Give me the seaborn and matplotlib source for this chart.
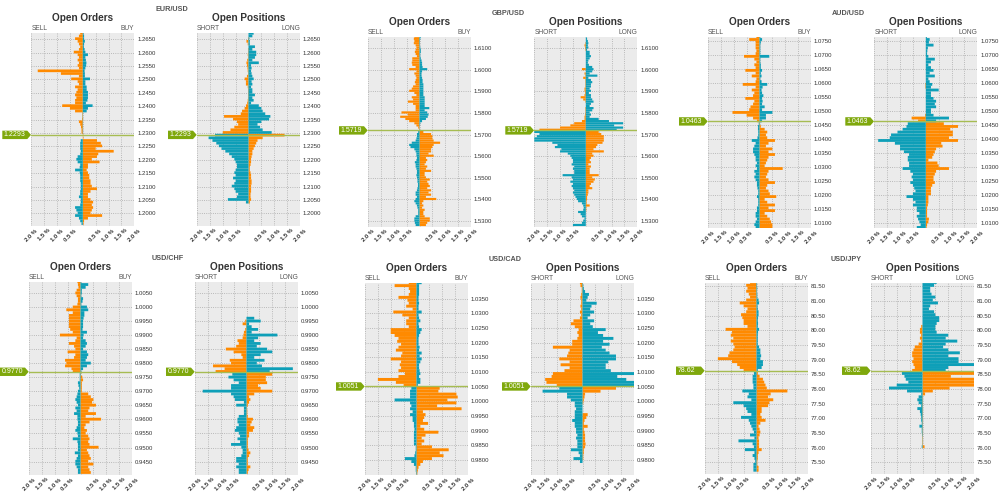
import numpy as np
import pandas as pd
import matplotlib
matplotlib.use('Agg')
import matplotlib.pyplot as plt
from matplotlib.patches import Polygon
from matplotlib.transforms import blended_transform_factory
import seaborn as sns

# percent of traders per price level, top row first
EUR_ORD_L = [.1,.15,.3,.2,.15,.1,.15,.35,.2,.15,
             .2,.15,.2,.15,1.75,.85,.15,.45,.2,.15,
             .3,.2,.25,.3,.25,.3,.3,.8,.5,.3,
             .02,.02,.03,.15,.1,.07,.05,.05,
             0,0,.08,.1,.1,.1,.08,.1,.2,.25,
             .2,.1,.12,.3,.12,.1,.1,.1,.08,.08,
             .08,.1,.1,.15,.08,.08,.1,.3,.25,.2,
             .3,.15,.1,.05]
EUR_ORD_R = [.03,.05,.05,.08,.05,.04,.07,.1,.2,.1,
             .12,.14,.13,.1,.07,.08,.08,.28,.1,.1,
             .15,.15,.2,.2,.2,.18,.12,.38,.2,.15,
             .01,.01,.01,.01,.01,.01,.01,.01,
             .02,.02,.55,.7,.75,.5,1.2,.6,.55,.35,
             .65,.2,.2,.15,.2,.25,.25,.3,.3,.35,
             .55,.3,.2,.2,.3,.4,.35,.4,.35,.3,
             .75,.2,.05,.03]
EUR_POS_L = [0,0,.02,.08,.03,0,.02,.02,.03,.02,
             .05,.08,.06,.04,.03,.02,.06,.15,.1,.1,
             .03,.02,.02,.02,.02,.03,.05,.1,.15,.25,
             .3,.95,.6,.45,.4,.55,.7,1.0,
             1.3,1.55,1.4,1.25,1.15,1.05,.9,.75,.65,.55,
             .5,.45,.45,.5,.55,.5,.6,.5,.55,.65,
             .55,.5,.4,.45,.8,.1,0,0,0,0,
             0,0,0,0]
EUR_POS_R = [.2,.15,.03,.05,.05,.25,.15,.3,.3,.25,
             .15,.4,.1,.12,.1,.12,.15,.2,.12,.15,
             .1,.15,.15,.25,.15,.2,.1,.4,.5,.55,
             .65,.85,.8,.5,.35,.45,.55,.9,
             1.4,.55,.35,.3,.25,.2,.15,.15,.12,.1,
             .1,.08,.05,.05,.08,.1,.1,.12,.12,.1,
             .1,.1,.08,.08,.1,.05,0,0,0,0,
             0,0,0,0]

GBP_ORD_L = [.2,.22,.2,.22,.15,.12,.15,.18,.15,.1,
             .28,.28,.3,.28,.15,.4,.12,.2,.15,.12,
             .15,.18,.15,.25,.3,.4,.2,.12,.3,.25,
             .45,.25,.15,.15,.15,.7,.45,.75,.55,.4,
             .2,.12,.05,.02,
             .05,.1,.1,.12,.15,.3,.4,.35,.2,
             .15,.12,.12,.1,.12,.18,.15,.15,.12,.1,
             .1,.12,.1,.08,.08,.06,.06,.08,.1,.15,
             .15,.1,.15,.2,.15,.1,.08,.05,.05,.05,
             .15,.2,.2,.18,.15]
GBP_ORD_R = [.05,.03,.02,.02,.02,.03,.05,.05,.03,.03,
             .05,.08,.1,.1,.12,.3,.1,.08,.08,.1,
             .12,.12,.15,.15,.15,.15,.15,.15,.2,.2,
             .2,.2,.2,.38,.2,.3,.35,.32,.25,.1,
             .03,.02,.01,.01,
             .15,.45,.5,.5,.55,.8,.55,.5,.45,
             .45,.35,.55,.25,.3,.25,.2,.3,.25,.45,
             .2,.2,.25,.4,.3,.35,.4,.3,.45,.35,
             .45,.25,.65,.15,.1,.15,.1,.2,.15,.15,
             .2,.4,.4,.3,.25]
GBP_POS_L = [0,0,0,.02,.05,.03,.02,0,0,0,
             0,0,0,0,0,.15,0,.05,.02,.1,
             .02,.02,.02,.02,.05,.05,.03,.05,.2,.1,
             .02,0,0,.02,.02,.02,.03,.05,.05,.15,
             .45,.6,1.0,1.8,
             2.0,1.8,1.9,2.0,2.0,1.3,1.1,1.2,.95,1.0,
             .7,.6,.55,.5,.5,.55,.45,.5,.45,.45,
             .9,.55,.5,.6,.5,.55,.5,.45,.5,.45,
             .4,.35,.3,.15,.1,.08,.1,.3,.2,.15,
             .05,.1,.15,.5]
GBP_POS_R = [.03,.05,.08,.1,.08,.1,.05,.15,.15,.2,
             .15,.1,.08,.12,.25,.3,.25,.15,.45,.1,
             .2,.25,.2,.2,.15,.2,.12,.2,.2,.25,
             .3,.2,.15,.3,.25,.15,.2,.15,.5,.9,
             1.45,1.1,1.45,1.2,
             .5,.6,.7,.7,.7,.65,.45,.4,.3,.7,
             .25,.3,.2,.15,.2,.1,.2,.15,.15,.15,
             .5,.25,.35,.3,.2,.15,.25,.1,.1,.08,
             .05,.05,.03,.03,.15,.02,.02,.01,0,0,
             0,0,0,0]

AUD_ORD_L = [.12,.4,.15,.15,.15,.12,.15,.6,.2,.12,
             .2,.15,.55,.15,.3,.12,.15,.65,.15,.3,
             .2,.25,.55,.2,.25,.35,.4,1.05,.5,.25,
             .1,
             .03,.06,.06,.05,.05,.08,.3,.15,.2,.25,
             .25,.2,.15,.15,.1,.15,.1,.2,.15,.2,
             .15,.1,.1,.08,.05,.05,.1,.05,.05,.05,
             .1,.1,.15,.15,.1,.15,.2,.15,.3]
AUD_ORD_R = [.03,.1,.05,.03,.03,.03,.03,.38,.03,.03,
             .05,.05,.1,.05,.08,.03,.08,.3,.12,.08,
             .1,.15,.1,.12,.1,.2,.1,.5,.25,.25,
             .1,
             .02,.05,.2,.3,.25,.3,.6,.35,.25,.5,
             .35,.6,.35,.3,.25,.2,.9,.35,.3,.25,
             .35,.6,.3,.25,.35,.4,.65,.2,.3,.6,
             .35,.6,.2,.3,.4,.45,.5,.5,.75]
AUD_POS_L = [0,0,0,0,0,0,0,0,0,0,
             0,0,0,0,0,0,0,.02,.02,0,
             0,0,0,0,0,0,0,0,.03,.55,
             .3,
             .7,.75,.9,1.1,1.35,1.4,1.85,1.2,1.0,1.0,
             .85,.65,.7,.7,.65,.65,.9,.6,.5,.55,
             .5,.6,.5,.45,.4,.5,.75,.5,.4,.5,
             .35,.35,.25,.35,.3,.25,.2,.35]
AUD_POS_R = [.04,.15,.12,.3,.08,.06,.05,.1,.35,.2,
             .1,.2,.3,.15,.35,.1,.15,.25,.2,.5,
             .2,.2,.3,.4,.35,.4,.2,.2,.3,.9,
             .4,
             .7,1.25,.95,1.05,1.05,.9,1.25,.6,.65,.4,
             .35,.3,.25,.1,.45,.5,.9,.4,.35,.3,
             .3,.35,.25,.2,.2,.2,.1,.1,.1,.08,
             .05,.05,.05,.05,.12,.1,.05,.03]

CHF_ORD_L = [.12,.1,.08,.15,.2,.15,.1,.1,.12,.3,
             .55,.3,.45,.45,.45,.45,.45,.4,.3,.8,
             .15,.2,.45,.25,.2,.5,.2,.25,.6,.55,
             .6,.35,.3,
             .03,.03,.03,.1,.08,.05,.1,.12,.15,.2,
             .15,.1,.2,.15,.25,.12,.12,.1,.1,.15,
             .2,.12,.1,.3,.12,.1,.1,.1,.22,.1,
             .15,.2,.2,.15,.1,.1]
CHF_ORD_R = [.03,.3,.2,.05,.05,.03,.1,.08,.03,.25,
             .3,.15,.15,.12,.1,.1,.1,.08,.25,.12,
             .1,.2,.25,.2,.1,.25,.3,.25,.2,.4,
             .25,.1,.03,
             .02,.07,.1,.05,.05,.05,.05,.3,.4,.5,
             .45,.6,.35,.3,.6,.2,.8,.35,.2,.15,
             .25,.2,.3,.35,.3,.35,.7,.25,.3,.35,
             .4,.3,.5,.3,.35,.4]
CHF_POS_L = [0,0,0,0,0,0,0,0,0,0,
             0,0,0,0,.05,.15,.02,.05,.1,.12,
             .15,.35,.3,.4,.8,.5,.2,.15,.65,.6,
             1.3,.85,1.2,
             .55,.7,.5,.3,.6,.6,1.7,.6,.5,.45,
             .1,.4,.1,.1,.1,.3,.35,.35,.3,.4,
             .45,.3,.25,.35,.25,.6,.2,.15,.15,.2,
             .4,.4,.3,.4,.3,.3]
CHF_POS_R = [0,0,0,0,0,0,0,0,0,0,
             0,0,0,.3,.55,.1,.2,.45,.2,1.2,
             .45,.3,.55,.4,.8,1.0,.55,.3,.7,.4,
             .6,1.8,.9,
             1.0,.75,.75,.8,.45,.55,1.0,.3,.1,.15,
             .1,.05,.02,.03,.03,.05,.25,.2,.15,.3,
             .25,.1,.1,.05,.05,.05,.05,.08,.15,.1,
             .05,.05,.05,.15,.08,.05]

CAD_ORD_L = [.3,.85,.3,.25,.3,.7,.35,.3,.4,.15,
             .9,.55,.3,.4,.4,.3,1.0,1.0,.85,.7,
             .75,.6,.7,.8,.55,.6,1.0,.6,.65,.6,
             .7,.45,.7,1.5,.8,.5,
             .2,.25,.25,.25,.85,.25,.2,.25,.15,.25,
             .15,.15,.1,.1,.08,.1,.1,.1,.1,.1,
             .03,.03,.05,.08,.45,.2,.1,.03,.03,.02]
CAD_ORD_R = [.2,.1,.1,.1,.1,.08,.08,.1,.08,.08,
             .2,.08,.1,.15,.08,.1,.2,.15,.1,.08,
             .08,.08,.12,.1,.2,.12,.2,.15,.1,.1,
             .12,.15,.1,.15,.15,.05,
             .9,.85,1.55,1.6,1.2,1.55,.8,1.75,.25,.35,
             .3,.25,.45,.15,.3,.85,.35,.2,.3,.2,
             .6,1.25,.9,1.05,.6,.25,.15,.08,.05,.03]
CAD_POS_L = [.1,.08,.03,.03,.05,.08,.05,.05,.08,.05,
             .1,.05,.1,.35,.45,.3,.15,.2,.15,.2,
             .4,.4,1.15,.5,.55,.6,.9,.5,.85,.5,
             .7,1.15,1.2,1.45,1.4,1.0,
             .9,1.55,.6,.6,.45,.3,.3,.25,.3,.3,
             .3,.4,.3,.3,.25,.25,.2,.25,.2,.2,
             .2,.45,.15,.1,.35,.1,0,0,0,0]
CAD_POS_R = [.02,.03,.05,.1,.25,.2,.15,.55,.35,.3,
             .45,.3,.2,.45,.3,.4,.9,.6,.8,1.2,
             .8,1.05,.75,.9,1.05,1.3,1.3,1.0,.9,.9,
             1.1,2.0,1.35,1.7,2.0,2.0,
             1.3,.7,.1,.08,.05,.03,0,0,0,.2,
             .15,.08,.05,.2,.05,.08,.1,.1,.1,.12,
             .1,.05,.05,.03,.03,0,0,0,0,0]

JPY_ORD_L = [.25,.4,.35,.4,.3,.25,.4,.65,.5,.35,
             .4,.6,.55,.5,.5,.35,1.2,.95,1.0,.9,
             1.0,.9,.85,.9,1.05,1.1,1.5,.95,.75,.65,
             .5,
             .1,.15,.15,.15,.12,.12,.55,.3,.35,
             .2,.9,.5,.4,.35,.2,.6,.3,.25,.2,
             .15,.1,.25,.08,.7,.15,.1,.45,.08,.15,
             .08,.05,.12,.12,.12]
JPY_ORD_R = [.02,.02,.03,.02,.03,.03,.08,.1,.04,.05,
             .08,.08,.06,.05,.06,.05,.1,.06,.05,.05,
             .05,.05,.1,.15,.15,.18,.15,.25,.25,.2,
             .05,
             .05,.12,.25,.3,.35,.4,1.2,.55,.45,
             .65,.5,.45,.2,.2,.15,.2,.35,.15,.08,
             .12,.15,.12,.08,.1,.1,.1,.2,.08,.05,
             .05,.03,.03,.08,.08]
JPY_POS_L = [0,0,0,0,0,0,0,0,0,0,
             0,0,0,0,0,.05,.1,.1,.05,.1,
             .05,.15,.3,.35,.4,.4,.35,.4,.35,.3,
             .4,
             .8,.7,.65,.55,1.0,1.3,.6,.05,.15,
             .2,.15,.05,.2,.1,.07,.05,.05,.03,.12,
             .03,.03,.02,.01,.01,.01,.03,0,0,0,
             0,0,0,0,0]
JPY_POS_R = [.55,.45,.3,.3,.35,.5,.4,.6,.3,.25,
             .45,.5,.65,.65,.55,.5,.5,.55,1.0,.9,
             1.35,.9,.8,1.0,1.45,1.0,1.4,1.4,2.0,1.0,
             .9,
             2.0,1.1,2.0,2.0,2.0,1.05,.4,.1,.02,.02,
             .02,.02,.02,.02,.02,.02,.02,.02,.02,.02,
             .02,.02,.02,.02,.02,.08,0,0,0,0,
             0,0,0,0]

PAIRS = ["EUR/USD", "GBP/USD", "AUD/USD", "USD/CHF", "USD/CAD", "USD/JPY"]
CURRENT = [1.2293, 1.5719, 1.0463, 0.9770, 1.0051, 78.62]
CURRENT_LABELS = ["1.2293", "1.5719", "1.0463", "0.9770", "1.0051", "78.62"]
TOP_LEVEL = [1.2672, 1.6152, 1.0765, 1.0091, 1.0405, 81.63]
ROW_STEP = [0.001, 0.001, 0.001, 0.001, 0.001, 0.1]
Y_RANGE = [(1.1953, 1.2672), (1.5274, 1.6152), (1.0083, 1.0765),
           (0.9402, 1.0089), (0.9749, 1.0405), (75.10, 81.62)]
Y_TICKS = [(1.2000, 1.2650, 0.005), (1.5300, 1.6100, 0.01), (1.0100, 1.0750, 0.005),
           (0.9450, 1.0050, 0.005), (0.9800, 1.0350, 0.005), (75.5, 81.5, 0.5)]
ORDERS = [(EUR_ORD_L, EUR_ORD_R), (GBP_ORD_L, GBP_ORD_R), (AUD_ORD_L, AUD_ORD_R),
          (CHF_ORD_L, CHF_ORD_R), (CAD_ORD_L, CAD_ORD_R), (JPY_ORD_L, JPY_ORD_R)]
POSITIONS = [(EUR_POS_L, EUR_POS_R), (GBP_POS_L, GBP_POS_R), (AUD_POS_L, AUD_POS_R),
             (CHF_POS_L, CHF_POS_R), (CAD_POS_L, CAD_POS_R), (JPY_POS_L, JPY_POS_R)]

X_TICKS = [-2, -1.5, -1, -.5, 0, .5, 1, 1.5, 2]
X_LABELS = ["2.0 %", "1.5 %", "1.0 %", "0.5 %", "", "0.5 %", "1.0 %", "1.5 %", "2.0 %"]

# panel boxes in pixels: left of orders, left of positions, top, bottom
BOXES = [(31.3, 197, 33.3, 226), (368, 534.3, 36.7, 226.7), (708, 874.3, 36.7, 228),
         (29, 195, 282.3, 475), (365, 531, 282.7, 475), (705, 871, 282.7, 474)]
PANEL_W = 103
PAIR_X = [172, 508.5, 848.5, 168, 505, 846]

W, H = 1000, 494
ORANGE = "#FF8A00"
TEAL = "#0E9FB8"
GREEN = "#7FA80C"
LINE = "#A6BC52"

sns.set_theme(style="white")
plt.rcParams['font.family'] = ['Liberation Sans', 'DejaVu Sans']


def build_table(left, right, top, step, current):
    rows = []
    for vals, sign in ((left, -1), (right, 1)):
        for i, v in enumerate(vals):
            price = round(top - i * step, 4)
            above = price >= current
            kind = "orange" if above == (sign < 0) else "teal"
            rows.append({"price": price, "value": sign * v, "kind": kind})
    return pd.DataFrame(rows)


def draw_panel(fig, left_px, top_px, bot_px, data, p, head, side_l, side_r):
    ax = fig.add_axes([left_px / W, 1 - bot_px / H, PANEL_W / W, (bot_px - top_px) / H])
    ax.set_facecolor("#EBEBEB")
    df = build_table(data[0], data[1], TOP_LEVEL[p], ROW_STEP[p], CURRENT[p])
    sns.barplot(data=df, x="value", y="price", hue="kind", orient="y", native_scale=True,
                palette={"orange": ORANGE, "teal": TEAL}, hue_order=["orange", "teal"],
                dodge=False, errorbar=None, width=1.0, linewidth=0, legend=False,
                saturation=1, ax=ax)
    # no pixel snapping, rows are thinner than 3 px
    for bar in ax.patches:
        bar.set_snap(False)
    ax.set_xlim(-2, 2)
    ax.set_ylim(*Y_RANGE[p])
    ax.set_xlabel("")
    ax.set_ylabel("")
    lo, hi, st = Y_TICKS[p]
    yt = np.arange(lo, hi + st / 2, st)
    ax.set_yticks(yt)
    ax.set_yticklabels([f"{t:.2f}" if p == 5 else f"{t:.4f}" for t in yt])
    ax.yaxis.tick_right()
    ax.set_xticks(X_TICKS)
    ax.set_xticklabels(X_LABELS, rotation=45, ha="center", fontweight="bold")
    ax.tick_params(axis="y", length=0, pad=2, labelsize=4.3, labelcolor="#333333")
    ax.tick_params(axis="x", length=0, pad=1.5, labelsize=4.2, labelcolor="#333333")
    ax.set_axisbelow(True)
    ax.grid(True, linestyle=":", linewidth=0.6, color="#A8A8A8")
    for s in ax.spines.values():
        s.set_visible(False)

    # price line and the tag on its left
    ax.axhline(CURRENT[p], color=LINE, linewidth=1.0, zorder=5)
    trans = blended_transform_factory(ax.transAxes, ax.transData)
    span = (Y_RANGE[p][1] - Y_RANGE[p][0]) / (bot_px - top_px)
    dy = 4.2 * span
    cur = CURRENT[p]
    tag = Polygon([(-29 / PANEL_W, cur - dy), (-4 / PANEL_W, cur - dy), (-0.3 / PANEL_W, cur),
                   (-4 / PANEL_W, cur + dy), (-29 / PANEL_W, cur + dy)],
                  closed=True, transform=trans, facecolor=GREEN, edgecolor="none", clip_on=False)
    ax.add_patch(tag)
    ax.text(-27.5 / PANEL_W, cur, CURRENT_LABELS[p], transform=trans, color="white",
            fontsize=5, ha="left", va="center")

    ax.text(0, 1.006, side_l, transform=ax.transAxes, fontsize=4.8, color="#555555",
            ha="left", va="bottom")
    ax.text(1, 1.006, side_r, transform=ax.transAxes, fontsize=4.8, color="#555555",
            ha="right", va="bottom")
    fig.text((left_px + PANEL_W / 2) / W, 1 - (top_px - 15) / H, head, fontsize=7.2,
             fontweight="bold", color="#333333", ha="center", va="center")


fig = plt.figure(figsize=(W / 100, H / 100), dpi=100)
for p, pair in enumerate(PAIRS):
    left_a, left_b, top, bot = BOXES[p]
    draw_panel(fig, left_a, top, bot, ORDERS[p], p, "Open Orders", "SELL", "BUY")
    draw_panel(fig, left_b, top, bot, POSITIONS[p], p, "Open Positions", "SHORT", "LONG")
    fig.text(PAIR_X[p] / W, 1 - (top - 23.5) / H, pair, fontsize=5.2, fontweight="bold",
             color="#555555", ha="center", va="center")

fig.savefig("out.png", dpi=100)
